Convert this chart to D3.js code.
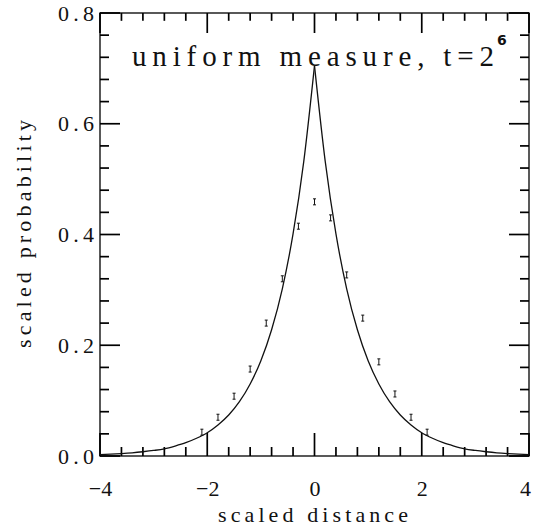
<!DOCTYPE html>
<html>
<head>
<meta charset="utf-8">
<script src="https://cdn.jsdelivr.net/npm/d3@7"></script>
<style>
  body { margin: 0; background: #fff; }
  text { font-family: "Liberation Serif", "DejaVu Serif", serif; fill: #111; }
</style>
</head>
<body>
<div class="svgContainer"></div>
<script>
// curve
let curveX = [-4, -3.8, -3.6, -3.4, -3.2, -3, -2.8, -2.6, -2.4, -2.2, -2, -1.8, -1.6, -1.4, -1.2, -1, -0.8, -0.6, -0.4, -0.2, 0,
  0.2, 0.4, 0.6, 0.8, 1, 1.2, 1.4, 1.6, 1.8, 2, 2.2, 2.4, 2.6, 2.8, 3, 3.2, 3.4, 3.6, 3.8, 4];
let curveY = [0.0025, 0.0033, 0.0044, 0.0058, 0.0077, 0.010, 0.013, 0.018, 0.024, 0.032, 0.042, 0.056, 0.074, 0.098, 0.130, 0.172, 0.228, 0.302, 0.401, 0.532, 0.705,
  0.532, 0.401, 0.302, 0.228, 0.172, 0.130, 0.098, 0.074, 0.056, 0.042, 0.032, 0.024, 0.018, 0.013, 0.010, 0.0077, 0.0058, 0.0044, 0.0033, 0.0025];

// measured points (small error bars)
let pointX = [-2.1, -1.8, -1.5, -1.2, -0.9, -0.6, -0.3, 0, 0.3, 0.6, 0.9, 1.2, 1.5, 1.8, 2.1];
let pointY = [0.043, 0.070, 0.108, 0.157, 0.240, 0.320, 0.415, 0.459, 0.430, 0.327, 0.249, 0.170, 0.112, 0.070, 0.043];

let xMajor = [-4, -2, 0, 2, 4];
let yMajor = [0, 0.2, 0.4, 0.6, 0.8];
let xLabels = ["\u22124", "\u22122", "0", "2", "4"];
let yLabels = ["0.0", "0.2", "0.4", "0.6", "0.8"];

let width = 533,
  height = 529,
  pLeft = 100,
  pRight = 529,
  pTop = 13,
  pBottom = 456;

let svg = d3
  .select(".svgContainer")
  .append("svg")
  .attr("width", width)
  .attr("height", height);

let xScale = d3.scaleLinear().domain([-4, 4]).range([pLeft, pRight]);
let yScale = d3.scaleLinear().domain([0, 0.8]).range([pBottom, pTop]);

let xMinor = d3.range(-4, 4.001, 0.4).filter(v => Math.abs(v / 2 - Math.round(v / 2)) > 0.01);
let yMinor = d3.range(0, 0.801, 0.04).filter(v => Math.abs(v / 0.2 - Math.round(v / 0.2)) > 0.01);

// tick labels through d3 axes
let bottomAxis = svg.append("g")
  .attr("transform", `translate(0,${pBottom})`)
  .call(d3.axisBottom(xScale).tickValues(xMajor).tickSize(0).tickPadding(24)
    .tickFormat((d, i) => xLabels[i]));
bottomAxis.select(".domain").remove();
bottomAxis.selectAll("text")
  .style("font-size", "22px")
  .style("font-family", "Liberation Serif")
  .attr("x", (d, i) => (i === 4 ? -4 : 0));

let leftAxis = svg.append("g")
  .attr("transform", `translate(${pLeft},0)`)
  .call(d3.axisLeft(yScale).tickValues(yMajor).tickSize(0).tickPadding(6)
    .tickFormat((d, i) => yLabels[i]));
leftAxis.select(".domain").remove();
leftAxis.selectAll("text")
  .style("font-size", "22px")
  .style("font-family", "Liberation Serif")
  .attr("textLength", 36)
  .attr("lengthAdjust", "spacing");

// inward ticks on all four sides
let ticks = svg.append("g").attr("stroke", "#000").attr("stroke-width", 1.7);

function xTicks(values, len) {
  ticks.selectAll(null).data(values).enter().append("line")
    .attr("x1", d => xScale(d)).attr("x2", d => xScale(d))
    .attr("y1", pBottom).attr("y2", pBottom - len);
  ticks.selectAll(null).data(values).enter().append("line")
    .attr("x1", d => xScale(d)).attr("x2", d => xScale(d))
    .attr("y1", pTop).attr("y2", pTop + len * 0.87);
}

function yTicks(values, len) {
  ticks.selectAll(null).data(values).enter().append("line")
    .attr("y1", d => yScale(d)).attr("y2", d => yScale(d))
    .attr("x1", pLeft).attr("x2", pLeft + len);
  ticks.selectAll(null).data(values).enter().append("line")
    .attr("y1", d => yScale(d)).attr("y2", d => yScale(d))
    .attr("x1", pRight).attr("x2", pRight - len);
}

xTicks(xMajor, 23);
xTicks(xMinor, 9);
yTicks(yMajor, 20);
yTicks(yMinor, 9);

// frame
svg.append("rect")
  .attr("x", pLeft)
  .attr("y", pTop)
  .attr("width", pRight - pLeft)
  .attr("height", pBottom - pTop)
  .attr("fill", "none")
  .attr("stroke", "#000")
  .attr("stroke-width", 1.3);

// curve, drawn as two halves so the cusp at 0 stays sharp
let line = d3.line()
  .x(d => xScale(d[0]))
  .y(d => yScale(d[1]))
  .curve(d3.curveMonotoneX);

let pts = curveX.map((v, i) => [v, curveY[i]]);
let leftHalf = pts.filter(d => d[0] <= 0);
let rightHalf = pts.filter(d => d[0] >= 0);

[leftHalf, rightHalf].forEach(p => {
  svg.append("path")
    .attr("d", line(p))
    .attr("fill", "none")
    .attr("stroke", "#111")
    .attr("stroke-width", 1.3);
});

// error bars
let bars = svg.append("g").attr("stroke", "#111").attr("stroke-width", 1);
pointX.forEach((v, i) => {
  let cx = xScale(v), cy = yScale(pointY[i]);
  bars.append("line").attr("x1", cx).attr("x2", cx).attr("y1", cy - 3).attr("y2", cy + 3);
  bars.append("line").attr("x1", cx - 1.5).attr("x2", cx + 1.5).attr("y1", cy - 3).attr("y2", cy - 3);
  bars.append("line").attr("x1", cx - 1.5).attr("x2", cx + 1.5).attr("y1", cy + 3).attr("y2", cy + 3);
});

// title
svg.append("text")
  .attr("x", 132)
  .attr("y", 66)
  .style("font-size", "29px")
  .attr("textLength", 362)
  .attr("lengthAdjust", "spacing")
  .text("uniform measure, t=2");
svg.append("text")
  .attr("x", 497)
  .attr("y", 45)
  .style("font-size", "14px")
  .style("font-family", "DejaVu Sans")
  .style("font-weight", "bold")
  .text("6");

// axis titles
svg.append("text")
  .attr("x", 218)
  .attr("y", 522)
  .style("font-size", "22px")
  .attr("textLength", 190)
  .attr("lengthAdjust", "spacing")
  .text("scaled distance");

svg.append("text")
  .attr("transform", "rotate(-90)")
  .attr("x", -348)
  .attr("y", 31)
  .style("font-size", "22px")
  .attr("textLength", 228)
  .attr("lengthAdjust", "spacing")
  .text("scaled probability");
</script>
</body>
</html>
